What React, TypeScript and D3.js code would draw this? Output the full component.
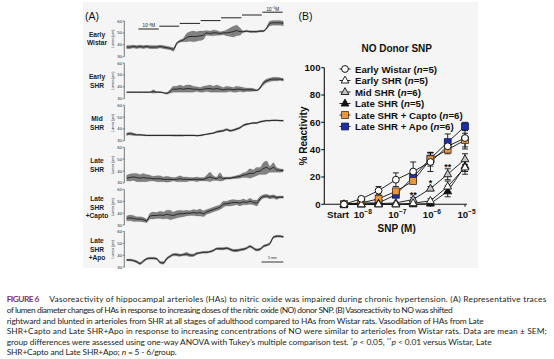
import React from 'react';
import * as d3 from 'd3';

// ---------- Panel A: lumen traces (µm), sampled evenly over ~36 min ----------
const traceLabels = [
  ['Early', 'Wistar'],
  ['Early', 'SHR'],
  ['Mid', 'SHR'],
  ['Late', 'SHR'],
  ['Late', 'SHR', '+Capto'],
  ['Late', 'SHR', '+Apo'],
];
const earlyWistarTrace = [38,38,38.5,38,38.5,38,38.5,38,38,38,38.5,38,37.5,37,36,41,43,44,46,47,47,47,47.5,48,50,49.5,50,50,49.5,50,50,50.5,51,52,51,51,51.5,51,51,51,51.5,51.5,54,58,58.5,58.5,58.5,58];
const earlyWistarNoise = [1.3,1.3,1.3,1.3,1.3,1.3,1.3,1.3,1.3,1.3,1.3,1.3,1.3,1.3,1.5,1,1,1.5,3.5,4,4.5,4,4,3.5,2,2,2.5,2,1.5,1.5,2.5,3.5,4.5,4.5,3,0.7,0.7,0.7,0.7,0.7,0.7,0.7,1,2,2,2,2,2];
const earlySHRTrace = [35.5,35.5,35.5,35.5,35.5,35.5,35.5,35.5,36,35.5,35.5,35,34.5,36,38,38,38.5,38,38.5,38.5,38,38,37.5,38,38.5,38.5,38,38.5,38,37.5,38,38,37.5,38,38,37.5,37.5,37.5,37.5,37,39,43,45,46,46.5,46.5,46.5,46];
const earlySHRNoise = [0.4,0.4,0.4,0.4,0.4,0.4,0.4,0.4,1.5,0.5,0.5,0.5,0.8,1.5,2.5,2.5,3,2.5,3,3,2.5,2,2,2.5,2.5,3,2.5,3,2.5,2,2.5,2,2,2.5,2,2,1.5,1.5,1.2,0.6,1,1.5,1.5,1.5,1.5,1.5,1.2,1.2];
const midSHRTrace = [35.5,36,35.5,35,35,34.8,34.5,34.5,34.5,34.5,34.5,34.5,34.5,34.5,34.5,34.5,34.5,34.5,34.5,34.5,34.5,34.3,34.5,35,35.5,36,36.5,37.5,38,38.5,39.5,38.5,39,40,41,43,44,44.5,45,45,46,46.5,47,47,47.2,47.2,47,47];
const midSHRNoise = [1,1.2,1,0.6,0.5,0.5,0.5,0.5,0.5,0.5,0.5,0.5,0.5,0.5,0.6,0.6,0.6,0.6,0.5,0.5,0.5,0.5,0.5,0.5,0.5,0.5,0.5,0.8,0.8,0.8,0.8,0.8,0.8,0.8,0.8,0.8,0.8,0.6,0.6,0.6,0.6,0.6,0.6,0.6,0.6,0.6,0.6,0.6];
const lateSHRTrace = [34,34.5,35,34.5,34,34.5,34,34,33.5,33.5,33.5,33,33,33,33,33,33.5,33,33,33,33,33,33,33,34,35,34,33.5,35,33.5,34,34,34.5,35,35.5,36.5,37,38,38,39.5,40,42,43,41.5,43,41,40.5,40.5];
const lateSHRNoise = [2.5,3,3,3.5,3,3.5,3,2.5,2,2.5,2.5,2,2.5,2,1.5,2,2.5,2,2,1.5,1.5,2,1.5,1.5,2.5,4,2,1.5,3.5,1.5,1,1,1,1.2,1.5,2,2.5,4,3,3.5,3,5,5.5,2.5,4,2,1.5,1];
const captoTrace = [35.5,36,35.5,35,35,34.5,33.5,37.5,38,38,38.5,38,39,38.5,38,39,39.5,39.5,40,40,40.5,40,40.5,39.5,41,42,43,44,45,47.5,48,48.5,49,49,48.5,49.5,49,50,49,48.5,52,54,54.5,53.5,54,53,53.5,53.5];
const captoNoise = [2,2.5,2.5,2,2,2,1.5,2.5,3,2.5,3,3,3.5,4,3,3,3,2.5,2.5,2,2.5,2.5,3,2.5,2,2,2,2,2,2.5,2,2.5,2.5,2,2.5,2.5,2,2.5,2,2.5,2,1.5,1.5,1.5,1.5,1.5,1,1];
const apoTrace = [36,36,35.5,34.5,33,35,37,37.5,37.5,37,34,33.5,37,39,40.5,40.5,40,40.5,41,40,40,41.5,42,42.5,42.5,43,44,45.5,45.5,45.5,46,45,44,44,44.5,45,46,47.5,46,44.5,45,47.5,48.5,50,55,56,56,55.5];
const apoNoise = [0.8,0.8,0.8,1,1,1,0.8,0.8,0.8,0.8,1,1.2,1,1,1,1.2,1,1,1.5,1.2,1,1,0.8,0.8,0.8,0.8,0.8,0.8,1,1,1,1,1,1.2,1,1,1,1,1,1,1,1,1,1,1,0.8,0.8,0.8];
const traces = [
  [earlyWistarTrace, earlyWistarNoise],
  [earlySHRTrace, earlySHRNoise],
  [midSHRTrace, midSHRNoise],
  [lateSHRTrace, lateSHRNoise],
  [captoTrace, captoNoise],
  [apoTrace, apoNoise],
];
const lumenTicks = [30, 40, 50, 60];
const doseStartsMin = [2.7, 7.5, 12.2, 17.0, 21.7, 26.5, 31.2];
const traceDurationMin = 36;

// ---------- Panel B: % reactivity ----------
const doses = ['Start', '1e-8', '3e-8', '1e-7', '3e-7', '1e-6', '3e-6', '1e-5'];
const xTickLabels = [
  { dose: 'Start', base: 'Start', exp: '' },
  { dose: '1e-8', base: '10', exp: '−8' },
  { dose: '1e-7', base: '10', exp: '−7' },
  { dose: '1e-6', base: '10', exp: '−6' },
  { dose: '1e-5', base: '10', exp: '−5' },
];
const yTicks = [0, 20, 40, 60, 80, 100];
const earlyWistarMean = [0, 4, 10, 18, 24, 31, 42.5, 48.5];
const earlyWistarSem = [0, 1.5, 3, 5, 7, 7, 3.5, 8];
const earlySHRMean = [0, 0, 0, 0, 0.8, 2.5, 13, 27];
const earlySHRSem = [0, 0, 0, 0, 0.5, 1.5, 4, 5];
const midSHRMean = [0, 0, 0.5, 1, 3.5, 11.5, 22, 33];
const midSHRSem = [0, 0, 0, 0.5, 1.5, 1.5, 4, 4];
const lateSHRMean = [0, 0, 0, 0, 0, 0.5, 9.5, 28];
const lateSHRSem = [0, 0, 0, 0, 0, 0.5, 4, 4];
const captoMean = [0, 1, 4, 9.5, 17, 33, 40, 47];
const captoSem = [0, 0.5, 1.5, 2, 2, 5, 3, 5];
const apoMean = [0, 1, 1, 7, 20, 33.5, 45.5, 57];
const apoSem = [0, 0.5, 0.5, 1.5, 3, 4, 6, 3];
const seriesNames = ['Early Wistar', 'Early SHR', 'Mid SHR', 'Late SHR', 'Late SHR + Capto', 'Late SHR + Apo'];
const seriesN = [5, 5, 6, 5, 6, 6];
const sigMarks = [
  { dose: '3e-7', value: 4.7, text: '**' },
  { dose: '1e-6', value: 13.5, text: '*' },
  { dose: '3e-6', value: 25, text: '**' },
];

const captionLines = [
  [{ t: 'Vasoreactivity of hippocampal arterioles (HAs) to nitric oxide was impaired during chronic hypertension. (A) Representative traces' }],
  [{ t: 'of lumen diameter changes of HAs in response to increasing doses of the nitric oxide (NO) donor SNP. (B) Vasoreactivity to NO was shifted' }],
  [{ t: 'rightward and blunted in arterioles from SHR at all stages of adulthood compared to HAs from Wistar rats. Vasodilation of HAs from Late' }],
  [{ t: 'SHR+Capto and Late SHR+Apo in response to increasing concentrations of NO were similar to arterioles from Wistar rats. Data are mean ± SEM;' }],
  [
    { t: 'group differences were assessed using one-way ANOVA with Tukey\u2019s multiple comparison test. ' },
    { t: '*', sup: true }, { t: 'p', i: true }, { t: ' < 0.05, ' },
    { t: '**', sup: true }, { t: 'p', i: true }, { t: ' < 0.01 versus Wistar, Late' },
  ],
  [{ t: 'SHR+Capto and Late SHR+Apo; ' }, { t: 'n', i: true }, { t: ' = 5 - 6/group.' }],
];
const captionWidths = [497, 446, 477, 540, 485, 170];

const SANS = 'Liberation Sans, Arial, sans-serif';

function Marker({ kind, fill, stroke, x, y }) {
  if (kind === 'circle') return <circle cx={x} cy={y} r={3.4} fill={fill} stroke={stroke} strokeWidth={1} />;
  if (kind === 'tri')
    return <path d={`M${x},${y - 4.4}L${x + 3.9},${y + 2.5}L${x - 3.9},${y + 2.5}Z`} fill={fill} stroke={stroke} strokeWidth={0.9} />;
  return <rect x={x - 3.4} y={y - 3.4} width={6.8} height={6.8} fill={fill} stroke={stroke} strokeWidth={0.8} />;
}

export default function App() {
  // ---- Panel A geometry ----
  const tScale = d3.scaleLinear().domain([0, traceDurationMin]).range([126.7, 283.3]);
  const sampleScale = d3.scaleLinear().domain([0, earlyWistarTrace.length - 1]).range([0, traceDurationMin]);
  const rowTop = (i) => 21 + 42.1 * i;
  const rowY = (i) => d3.scaleLinear().domain([30, 60]).range([rowTop(i) + 35.6, rowTop(i)]);
  const axisX = 124.3;

  // ---- Panel B geometry ----
  const x = d3.scalePoint().domain(doses).range([344, 465]);
  const y = d3.scaleLinear().domain([0, 100]).range([204.3, 67.7]);
  const series = [
    { mean: earlyWistarMean, sem: earlyWistarSem, kind: 'circle', fill: '#fff', stroke: '#111' },
    { mean: earlySHRMean, sem: earlySHRSem, kind: 'tri', fill: '#fff', stroke: '#111' },
    { mean: midSHRMean, sem: midSHRSem, kind: 'tri', fill: '#c4c4c4', stroke: '#111' },
    { mean: lateSHRMean, sem: lateSHRSem, kind: 'tri', fill: '#111', stroke: '#111' },
    { mean: captoMean, sem: captoSem, kind: 'square', fill: '#E8973F', stroke: '#4a3015' },
    { mean: apoMean, sem: apoSem, kind: 'square', fill: '#1E2FA6', stroke: '#0b1050' },
  ];
  const line = d3.line().x((d) => d[0]).y((d) => d[1]);
  const drawOrder = [5, 4, 3, 2, 1, 0];

  return (
    <svg width={554} height={359} style={{ position: 'absolute', left: 0, top: 0, background: '#fff' }} fontFamily={SANS}>
      <rect x={83} y={2} width={395} height={266} fill="#f5f5f5" />

      {/* ---------- Panel A ---------- */}
      <text x={85} y={19.5} fontSize={10.5} fill="#111">(A)</text>
      {doseStartsMin.map((t0, j) => {
        const t1 = j < doseStartsMin.length - 1 ? doseStartsMin[j + 1] : traceDurationMin;
        const yy = 29 - j * 2.8;
        return <line key={j} x1={tScale(t0)} x2={tScale(t1) - 0.6} y1={yy} y2={yy} stroke="#222" strokeWidth={1} />;
      })}
      <text x={(tScale(doseStartsMin[0]) + tScale(doseStartsMin[1])) / 2} y={27.3} fontSize={4.6} textAnchor="middle" fill="#222">
        10<tspan fontSize={3.2} dy={-1.6}>−8</tspan><tspan dy={1.6}>M</tspan>
      </text>
      <text x={(tScale(doseStartsMin[6]) + tScale(traceDurationMin)) / 2} y={11} fontSize={4.6} textAnchor="middle" fill="#222">
        10<tspan fontSize={3.2} dy={-1.6}>−5</tspan><tspan dy={1.6}>M</tspan>
      </text>

      {traces.map(([vals, noise], i) => {
        const yy = rowY(i);
        const xs = vals.map((_, k) => tScale(sampleScale(k)));
        const band = d3
          .area()
          .x((_, k) => xs[k])
          .y0((v, k) => yy(v - noise[k]))
          .y1((v, k) => yy(v + noise[k]))
          .curve(d3.curveMonotoneX);
        const mid = d3
          .line()
          .x((_, k) => xs[k])
          .y((v) => yy(v))
          .curve(d3.curveMonotoneX);
        const lab = traceLabels[i];
        const labTop = rowTop(i) + 18 - (lab.length - 1) * 4.2;
        return (
          <g key={i}>
            {lab.map((s, m) => (
              <text key={m} x={97} y={labTop + m * 8.4 + 2.2} fontSize={6.6} fontWeight="bold" textAnchor="middle" fill="#222">{s}</text>
            ))}
            <line x1={axisX} x2={axisX} y1={yy(60)} y2={yy(30)} stroke="#222" strokeWidth={0.6} />
            {lumenTicks.map((t) => (
              <g key={t}>
                <line x1={axisX - 1.6} x2={axisX} y1={yy(t)} y2={yy(t)} stroke="#222" strokeWidth={0.5} />
                <text x={axisX - 2.2} y={yy(t) + 1.5} fontSize={4.3} textAnchor="end" fill="#222">{t}</text>
              </g>
            ))}
            <text transform={`translate(${axisX - 10.2},${(yy(60) + yy(30)) / 2}) rotate(-90)`} fontSize={3.4} textAnchor="middle" fill="#333">Lumen (µm)</text>
            <path d={band(vals)} fill="#333" fillOpacity={0.6} stroke="#333" strokeOpacity={0.4} strokeWidth={0.4} />
            <path d={mid(vals)} fill="none" stroke="#111" strokeWidth={0.8} />
          </g>
        );
      })}
      <line x1={tScale(31)} x2={tScale(36)} y1={262} y2={262} stroke="#222" strokeWidth={0.9} />
      <text x={tScale(33.5)} y={259.3} fontSize={3.6} textAnchor="middle" fill="#222">5 min</text>

      {/* ---------- Panel B ---------- */}
      <text x={298.5} y={19.5} fontSize={10.5} fill="#111">(B)</text>
      <text x={396.7} y={51.8} fontSize={10} fontWeight="bold" textAnchor="middle" fill="#111">NO Donor SNP</text>

      <line x1={324.3} x2={324.3} y1={y(100)} y2={y(0)} stroke="#111" strokeWidth={1.1} />
      {yTicks.map((t) => (
        <g key={t}>
          <line x1={321.3} x2={324.3} y1={y(t)} y2={y(t)} stroke="#111" strokeWidth={1.1} />
          <text x={320.5} y={y(t) + 3.4} fontSize={9.6} fontWeight="bold" textAnchor="end" fill="#111">{t}</text>
        </g>
      ))}
      <text transform={`translate(306.5,${(y(0) + y(100)) / 2}) rotate(-90)`} fontSize={10} fontWeight="bold" textAnchor="middle" fill="#111">% Reactivity</text>
      <line x1={324.3} x2={467} y1={y(0)} y2={y(0)} stroke="#111" strokeWidth={1.1} />
      {xTickLabels.map((d) => (
        <g key={d.dose}>
          <line x1={x(d.dose)} x2={x(d.dose)} y1={y(0)} y2={y(0) + 2.5} stroke="#111" strokeWidth={1} />
          <text x={x(d.dose) - (d.exp ? -1.5 : 6)} y={217.8} fontSize={9.6} fontWeight="bold" textAnchor="middle" fill="#111">
            {d.base}
            {d.exp && <tspan fontSize={6.6} dy={-4}>{d.exp}</tspan>}
          </text>
        </g>
      ))}
      <text x={396.7} y={231.8} fontSize={10} fontWeight="bold" textAnchor="middle" fill="#111">SNP (M)</text>

      {series.map((s, si) => (
        <path key={'l' + si} d={line(doses.map((dd, k) => [x(dd), y(s.mean[k])]))} fill="none" stroke="#111" strokeWidth={0.9} />
      ))}
      {series.map((s, si) => (
        <g key={'e' + si}>
          {doses.map((dd, k) =>
            s.sem[k] > 0.6 ? (
              <g key={k} stroke="#111" strokeWidth={0.9}>
                <line x1={x(dd)} x2={x(dd)} y1={y(s.mean[k] - s.sem[k])} y2={y(s.mean[k] + s.sem[k])} />
                <line x1={x(dd) - 3} x2={x(dd) + 3} y1={y(s.mean[k] + s.sem[k])} y2={y(s.mean[k] + s.sem[k])} />
                <line x1={x(dd) - 3} x2={x(dd) + 3} y1={y(s.mean[k] - s.sem[k])} y2={y(s.mean[k] - s.sem[k])} />
              </g>
            ) : null
          )}
        </g>
      ))}
      {drawOrder.map((si) => {
        const s = series[si];
        return (
          <g key={'m' + si}>
            {doses.map((dd, k) => (
              <Marker key={k} kind={s.kind} fill={s.fill} stroke={s.stroke} x={x(dd)} y={y(s.mean[k])} />
            ))}
          </g>
        );
      })}
      {sigMarks.map((m) => (
        <text key={m.dose} x={x(m.dose)} y={y(m.value)} fontSize={9} fontWeight="bold" textAnchor="middle" fill="#111">{m.text}</text>
      ))}

      {series.map((s, si) => {
        const ly = 69 + si * 11.5;
        return (
          <g key={'lg' + si}>
            <line x1={339.5} x2={350.5} y1={ly} y2={ly} stroke="#111" strokeWidth={0.9} />
            <Marker kind={s.kind} fill={s.fill} stroke={s.stroke} x={345} y={ly} />
            <text x={355} y={ly + 3.5} fontSize={9.7} fontWeight="bold" fill="#111">
              {seriesNames[si]} (<tspan fontStyle="italic">n</tspan>={seriesN[si]})
            </text>
          </g>
        );
      })}

      {/* ---------- Caption ---------- */}
      <g fontFamily="Lato, 'Open Sans', sans-serif" fontSize={8.4} fill="#231f20">
        <text x={6.7} y={302.2} textLength={32.6} lengthAdjust="spacing" fontWeight="bold" fill="#8a2c6f">FIGURE 6</text>
        {captionLines.map((segs, li) => (
          <text key={li} x={li === 0 ? 49.3 : 6.7} y={302.2 + li * 10.65} textLength={captionWidths[li]} lengthAdjust="spacing">
            {segs.map((sg, k) => (
              <tspan key={k} fontStyle={sg.i ? 'italic' : undefined} fontSize={sg.sup ? 5.8 : undefined} dy={sg.sup ? -2.7 : k > 0 && segs[k - 1].sup ? 2.7 : undefined}>
                {sg.t}
              </tspan>
            ))}
          </text>
        ))}
      </g>
    </svg>
  );
}
